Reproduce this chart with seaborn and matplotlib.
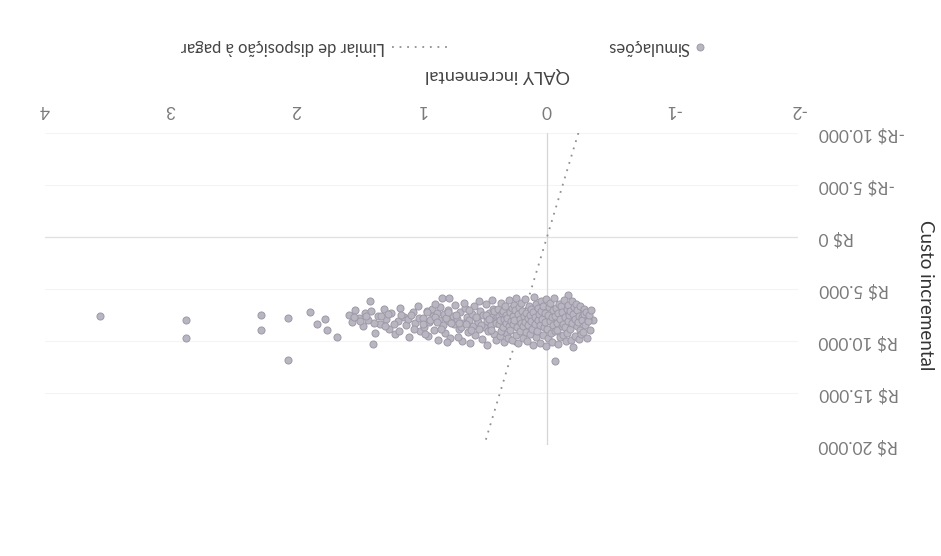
import matplotlib
matplotlib.use("Agg")
import matplotlib.pyplot as plt
from matplotlib.lines import Line2D
import numpy as np
import pandas as pd
import seaborn as sns

# ---------------------------------------------------------------------------
# Dados: simulações do plano custo-efetividade
# ---------------------------------------------------------------------------
# simulações isoladas (cauda à direita em QALY)
qaly_extremos = [3.56, 2.88, 2.88, 2.28, 2.28, 2.06, 2.06, 1.89, 1.83, 1.77,
                 1.75, 1.67, 1.41, 1.39, -0.37, -0.06, -0.17, 0.84, 0.78]
custo_extremos = [7600, 7980, 9700, 7500, 8900, 7800, 11800, 7200, 8400, 7900,
                  8900, 9600, 6200, 10300, 8000, 11900, 5600, 5900, 5900]

# faixa 1,0 a 1,6 QALY
qaly_faixa_alta = [1.58, 1.55, 1.53, 1.50, 1.47, 1.45, 1.43, 1.40, 1.37, 1.35,
                   1.33, 1.30, 1.28, 1.26, 1.24, 1.21, 1.19, 1.17, 1.14, 1.12,
                   1.10, 1.07, 1.05, 1.03, 1.01,
                   1.54, 1.49, 1.44, 1.38, 1.32, 1.27, 1.22, 1.16, 1.11, 1.06,
                   1.02, 1.29, 1.18, 1.08]
custo_faixa_alta = [7500, 8200, 7000, 7800, 8600, 7300, 8000, 7100, 9200, 7600,
                    8400, 6900, 7900, 8800, 7300, 9300, 8100, 6800, 7700, 8500,
                    9600, 7200, 8300, 6600, 9000,
                    7700, 8100, 7600, 8300, 7600, 7400, 8400, 7500, 7900, 8800,
                    7800, 8600, 9000, 7500]

# faixa 0,4 a 1,0 QALY
qaly_faixa_media = [0.99, 0.98, 0.96, 0.95, 0.94, 0.92, 0.91, 0.90, 0.88, 0.87,
                    0.86, 0.85, 0.83, 0.82, 0.81, 0.79, 0.78, 0.77, 0.75, 0.74,
                    0.73, 0.72, 0.70, 0.69, 0.68, 0.67, 0.65, 0.64, 0.63, 0.62,
                    0.60, 0.59, 0.58, 0.57, 0.56, 0.55, 0.53, 0.52, 0.51, 0.50,
                    0.49, 0.48, 0.47, 0.46, 0.45, 0.44, 0.43, 0.42, 0.41, 0.40,
                    0.97, 0.89, 0.80, 0.71, 0.66, 0.61, 0.54, 0.48, 0.44, 0.41,
                    0.985, 0.935, 0.895, 0.845, 0.805, 0.765, 0.725, 0.685,
                    0.645, 0.605, 0.565, 0.525, 0.485, 0.445, 0.405,
                    0.955, 0.875, 0.785, 0.705, 0.625, 0.545, 0.465, 0.425]
custo_faixa_media = [7800, 8700, 7100, 9500, 8200, 6900, 7600, 8900, 7300, 9900,
                     8000, 6700, 8500, 7400, 9200, 7000, 8100, 9700, 7600, 8400,
                     6500, 7900, 8800, 7200, 10000, 8300, 6800, 7700, 9100, 8000,
                     7400, 8600, 6600, 9400, 7900, 8200, 7100, 9800, 7500, 8700,
                     6400, 8100, 9000, 7300, 8500, 7700, 6900, 9300, 8000, 7600,
                     9300, 6400, 10100, 9600, 6300, 10200, 6200, 10400, 6100, 9900,
                     8400, 8000, 7700, 8800, 7800, 8300, 7500, 8700,
                     8400, 8900, 7700, 8500, 7500, 8900, 8300,
                     7200, 8200, 7200, 8300, 7000, 8800, 7900, 7100]

# núcleo denso (-0,35 a 0,4 QALY)
qaly_nucleo = [0.392, 0.386, 0.381, 0.377, 0.372, 0.368, 0.363, 0.358,
               0.353, 0.349, 0.344, 0.339, 0.334, 0.329, 0.325, 0.320,
               0.316, 0.311, 0.306, 0.301, 0.297, 0.292, 0.287, 0.282,
               0.278, 0.273, 0.268, 0.263, 0.259, 0.254, 0.249, 0.244,
               0.239, 0.234, 0.229, 0.224, 0.219, 0.214, 0.209, 0.204,
               0.199, 0.194, 0.189, 0.184, 0.179, 0.174, 0.169, 0.164,
               0.159, 0.154, 0.149, 0.144, 0.139, 0.134, 0.129, 0.124,
               0.119, 0.114, 0.109, 0.104, 0.099, 0.094, 0.089, 0.084,
               0.079, 0.074, 0.069, 0.064, 0.059, 0.054, 0.049, 0.044,
               0.039, 0.034, 0.029, 0.024, 0.019, 0.014, 0.009, 0.004,
               -0.001, -0.006, -0.011, -0.016, -0.021, -0.026, -0.031, -0.036,
               -0.041, -0.046, -0.051, -0.056, -0.061, -0.066, -0.071, -0.076,
               -0.081, -0.086, -0.091, -0.096, -0.101, -0.106, -0.111, -0.116,
               -0.121, -0.126, -0.131, -0.136, -0.141, -0.146, -0.151, -0.156,
               -0.161, -0.166, -0.171, -0.176, -0.181, -0.186, -0.191, -0.196,
               -0.201, -0.206, -0.211, -0.216, -0.221, -0.226, -0.231, -0.236,
               -0.241, -0.246, -0.251, -0.256, -0.261, -0.266, -0.271, -0.276,
               -0.281, -0.287, -0.293, -0.298, -0.303, -0.309, -0.316, -0.323,
               -0.329, -0.336, -0.342, -0.350]
custo_nucleo = [6900, 8400, 7600, 9500, 8000, 6300, 9000, 7300,
                8700, 7100, 10100, 7900, 6600, 8300, 7500, 9300,
                7800, 9700, 6100, 8600, 7200, 8900, 8100, 6800,
                9900, 7600, 8400, 6500, 8000, 7000, 9400, 5900,
                8700, 7400, 10200, 6700, 7900, 9000, 6300, 8300,
                7100, 8600, 9700, 7600, 8200, 6000, 9100, 7300,
                10000, 7800, 8500, 6600, 7500, 9300, 6900, 8100,
                8800, 7200, 10400, 5800, 7700, 8400, 6400, 9600,
                9000, 6800, 8000, 7400, 8500, 10200, 7100, 6200,
                7900, 9400, 6600, 8700, 7300, 8200, 10500, 6000,
                8800, 7500, 9700, 6700, 8100, 6300, 9200, 7700,
                10100, 7000, 8500, 5900, 7600, 9000, 6800, 8300,
                8900, 7300, 10300, 6400, 7900, 9600, 6600, 8600,
                7200, 8400, 9400, 6100, 8700, 7700, 10000, 6900,
                9200, 6500, 8100, 7500, 7100, 8800, 9900, 6200,
                8300, 7400, 10600, 6700, 9500, 7900, 6400, 8600,
                7000, 8200, 9800, 7600, 8900, 6600, 9300, 7700,
                8000, 9100, 6900, 7400, 8500, 7200, 9700, 7900,
                8100, 7500, 8900, 7000]

# limiar de disposição a pagar (R$ por QALY)
limiar_por_qaly = 40000

# eixos
qaly_ticks = [-2, -1, 0, 1, 2, 3, 4]
custo_ticks = [-10000, -5000, 0, 5000, 10000, 15000, 20000]

df = pd.DataFrame({
    "qaly": qaly_extremos + qaly_faixa_alta + qaly_faixa_media + qaly_nucleo,
    "custo": custo_extremos + custo_faixa_alta + custo_faixa_media + custo_nucleo,
})


def fmt_reais(v):
    s = f"{abs(int(v)):,}".replace(",", ".")
    return ("-R$ " if v < 0 else "R$ ") + s


# ---------------------------------------------------------------------------
# Figura
# ---------------------------------------------------------------------------
sns.set_theme(style="white")
plt.rcParams["font.family"] = ["Lato", "DejaVu Sans"]

W, H = 941, 556
fig = plt.figure(figsize=(W / 100, H / 100), dpi=100)
fig.patch.set_facecolor("white")

ax = fig.add_axes([45 / W, 1 - 445 / H, (798 - 45) / W, (445 - 133) / H])

ymin, ymax = custo_ticks[0], custo_ticks[-1]

# grade horizontal e eixos em zero
for t in custo_ticks:
    ax.axhline(t, color="#f4f4f4", lw=0.8, zorder=0)
ax.axhline(0, color="#e0e0e0", lw=0.9, zorder=1)
ax.axvline(0, color="#d6d6d6", lw=0.9, zorder=1)

# linha do limiar passando pela origem
linha = pd.DataFrame({
    "qaly": [ymin / limiar_por_qaly, ymax / limiar_por_qaly],
    "custo": [ymin, ymax],
})
sns.lineplot(data=linha, x="qaly", y="custo", ax=ax, color="#909090",
             lw=1.3, linestyle=(0, (1, 3.2)), zorder=2, sort=False)

# simulações
sns.scatterplot(data=df, x="qaly", y="custo", ax=ax, s=26,
                color="#b9b5c1", edgecolor="#9d99a6", linewidth=0.7,
                zorder=3, legend=False)

# eixos invertidos
ax.set_xlim(qaly_ticks[-1], qaly_ticks[0])
ax.set_ylim(ymax, ymin)
for s in ax.spines.values():
    s.set_visible(False)

ax.set_xticks(qaly_ticks)
ax.set_xticklabels([str(t) for t in qaly_ticks], rotation=180,
                   fontsize=12.5, color="#7a7a7a")
ax.xaxis.tick_top()
ax.tick_params(axis="x", length=0, pad=11)

ax.set_yticks(custo_ticks)
ax.set_yticklabels([fmt_reais(t) for t in custo_ticks], rotation=180,
                   fontsize=12.5, color="#7a7a7a", va="center")
ax.yaxis.tick_right()
ax.tick_params(axis="y", length=0, pad=15)
ax.set_xlabel("")
ax.set_ylabel("")

# títulos dos eixos
fig.text(497 / W, 1 - 75 / H, "QALY incremental", rotation=180,
         ha="center", va="center", fontsize=13, color="#454545")
fig.text(926 / W, 1 - 295 / H, "Custo incremental", rotation=270,
         ha="center", va="center", fontsize=13.5, color="#333333")

# legenda
fig.add_artist(Line2D([700 / W], [1 - 47 / H], transform=fig.transFigure,
                      marker="o", markersize=5, color="#b9b5c1",
                      markeredgecolor="#9d99a6", markeredgewidth=0.7, lw=0))
fig.text(690 / W, 1 - 47 / H, "Simulações", rotation=180,
         ha="right", va="center", fontsize=12, color="#444444")
fig.add_artist(Line2D([392 / W, 452 / W], [1 - 47 / H, 1 - 47 / H],
                      transform=fig.transFigure, color="#909090", lw=1.3,
                      linestyle=(0, (1, 3.2))))
fig.text(385 / W, 1 - 47 / H, "Limiar de disposição à pagar", rotation=180,
         ha="right", va="center", fontsize=12, color="#444444")

fig.savefig("out.png", dpi=100, facecolor="white")
